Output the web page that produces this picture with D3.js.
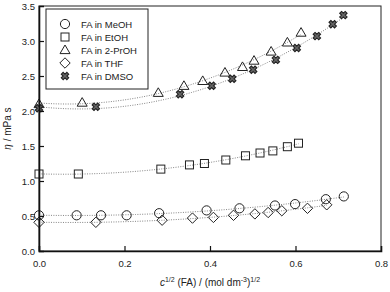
<!DOCTYPE html>
<html>
<head>
<meta charset="utf-8">
<script src="https://cdn.jsdelivr.net/npm/d3@7"></script>
<style>
  body { margin: 0; background: #fff; }
  text { font-family: "Liberation Sans", Arial, sans-serif; fill: #222; }
</style>
</head>
<body>
<div id="chart"></div>
<script>
// data: x = c^1/2, y = viscosity
const seriesNames = ['FA in MeOH', 'FA in EtOH', 'FA in 2-PrOH', 'FA in THF', 'FA in DMSO']

const xMeOH = [0, 0.088, 0.145, 0.205, 0.281, 0.392, 0.469, 0.552, 0.599, 0.671, 0.713]
const yMeOH = [0.51, 0.51, 0.51, 0.51, 0.54, 0.58, 0.61, 0.65, 0.67, 0.74, 0.78]

const xEtOH = [0, 0.092, 0.285, 0.352, 0.387, 0.437, 0.483, 0.517, 0.547, 0.581, 0.607]
const yEtOH = [1.10, 1.10, 1.17, 1.23, 1.25, 1.30, 1.36, 1.40, 1.43, 1.49, 1.54]

const xPrOH = [0, 0.101, 0.279, 0.339, 0.383, 0.435, 0.476, 0.503, 0.543, 0.581, 0.613]
const yPrOH = [2.10, 2.12, 2.26, 2.36, 2.43, 2.55, 2.63, 2.72, 2.85, 2.98, 3.12]

const xTHF = [0, 0.133, 0.288, 0.359, 0.408, 0.455, 0.505, 0.536, 0.568, 0.628, 0.673]
const yTHF = [0.41, 0.41, 0.44, 0.47, 0.48, 0.51, 0.53, 0.55, 0.575, 0.61, 0.66]

const xDMSO = [0, 0.133, 0.33, 0.404, 0.452, 0.501, 0.554, 0.603, 0.650, 0.687, 0.712]
const yDMSO = [2.04, 2.06, 2.24, 2.36, 2.46, 2.59, 2.73, 2.90, 3.07, 3.24, 3.37]

const xTicks = [0, 0.2, 0.4, 0.6, 0.8]
const yTicks = [0, 0.5, 1.0, 1.5, 2.0, 2.5, 3.0, 3.5]

const series = [
  { name: seriesNames[0], xs: xMeOH, ys: yMeOH, sym: 'circle' },
  { name: seriesNames[1], xs: xEtOH, ys: yEtOH, sym: 'square' },
  { name: seriesNames[2], xs: xPrOH, ys: yPrOH, sym: 'triangle' },
  { name: seriesNames[3], xs: xTHF, ys: yTHF, sym: 'diamond' },
  { name: seriesNames[4], xs: xDMSO, ys: yDMSO, sym: 'cross' }
]

const dimensions = {
  width: 390,
  height: 292,
  left: 39,
  right: 9,
  top: 6,
  bottom: 41
}
dimensions.ctrWidth = dimensions.width - dimensions.left - dimensions.right
dimensions.ctrHeight = dimensions.height - dimensions.top - dimensions.bottom

const svg = d3.select('#chart')
  .append('svg')
  .attr('width', dimensions.width)
  .attr('height', dimensions.height)

const ctr = svg.append('g')
  .attr('transform', `translate(${dimensions.left}, ${dimensions.top})`)

const xScale = d3.scaleLinear()
  .domain([0, 0.8])
  .range([0, dimensions.ctrWidth])

const yScale = d3.scaleLinear()
  .domain([0, 3.5])
  .range([dimensions.ctrHeight, 0])

// frame (top/right thin)
ctr.append('rect')
  .attr('width', dimensions.ctrWidth)
  .attr('height', dimensions.ctrHeight)
  .attr('fill', 'none')
  .attr('stroke', '#222')
  .attr('stroke-width', 1)

// quadratic least squares fit  y = a + b x + c x^2
function fit2(xs, ys) {
  let s = [0, 0, 0, 0, 0], t = [0, 0, 0]
  xs.forEach((x, i) => {
    for (let k = 0; k < 5; k++) s[k] += Math.pow(x, k)
    for (let k = 0; k < 3; k++) t[k] += ys[i] * Math.pow(x, k)
  })
  const m = [[s[0], s[1], s[2], t[0]], [s[1], s[2], s[3], t[1]], [s[2], s[3], s[4], t[2]]]
  for (let i = 0; i < 3; i++) {
    for (let j = i + 1; j < 3; j++) {
      const f = m[j][i] / m[i][i]
      for (let k = i; k < 4; k++) m[j][k] -= f * m[i][k]
    }
  }
  const c = [0, 0, 0]
  for (let i = 2; i >= 0; i--) {
    let v = m[i][3]
    for (let k = i + 1; k < 3; k++) v -= m[i][k] * c[k]
    c[i] = v / m[i][i]
  }
  return x => c[0] + c[1] * x + c[2] * x * x
}

const line = d3.line()
  .x(d => xScale(d[0]))
  .y(d => yScale(d[1]))

const fitGroup = ctr.append('g')
series.forEach(s => {
  const f = fit2(s.xs, s.ys)
  const xMax = d3.max(s.xs)
  const pts = d3.range(0, 61).map(i => {
    const x = xMax * i / 60
    return [x, f(x)]
  })
  fitGroup.append('path')
    .attr('d', line(pts))
    .attr('fill', 'none')
    .attr('stroke', '#777')
    .attr('stroke-width', 0.9)
    .attr('stroke-dasharray', '1,1.4')
})

// markers
function drawSymbol(g, sym) {
  if (sym === 'circle') {
    g.append('circle').attr('r', 4.6)
  } else if (sym === 'square') {
    g.append('rect').attr('x', -4).attr('y', -4).attr('width', 8).attr('height', 8)
  } else if (sym === 'triangle') {
    g.append('path').attr('d', 'M0,-5L5,3.6L-5,3.6Z')
  } else if (sym === 'diamond') {
    g.append('path').attr('d', 'M0,-5.2L5.2,0L0,5.2L-5.2,0Z')
  } else {
    g.append('path')
      .attr('d', d3.symbol(d3.symbolCross, 34)())
      .attr('transform', 'rotate(45)')
      .attr('fill', '#666')
      .attr('stroke', '#222')
      .attr('stroke-width', 1.1)
  }
}

const markGroup = ctr.append('g')
series.forEach(s => {
  s.xs.forEach((x, i) => {
    const g = markGroup.append('g')
      .attr('transform', `translate(${xScale(x)}, ${yScale(s.ys[i])})`)
      .attr('fill', 'none')
      .attr('stroke', '#222')
      .attr('stroke-width', 1)
    drawSymbol(g, s.sym)
  })
})

// axes with inward ticks
const xAxis = d3.axisBottom(xScale)
  .tickValues(xTicks)
  .tickSize(-5)
  .tickPadding(9)
  .tickFormat(d3.format('.1f'))

const xAxisGroup = ctr.append('g')
  .attr('transform', `translate(0, ${dimensions.ctrHeight})`)
  .call(xAxis)

const yAxis = d3.axisLeft(yScale)
  .tickValues(yTicks)
  .tickSize(-5)
  .tickPadding(4)
  .tickFormat(d3.format('.1f'))

const yAxisGroup = ctr.append('g')
  .call(yAxis)

;[xAxisGroup, yAxisGroup].forEach(g => {
  g.select('.domain').attr('stroke', '#111').attr('stroke-width', 1.6)
  g.selectAll('.tick line').attr('stroke', '#111').attr('stroke-width', 1.2)
  g.selectAll('.tick text')
    .style('font-family', '"Liberation Sans", Arial, sans-serif')
    .style('font-size', '9.5px')
    .attr('fill', '#222')
})
xAxisGroup.selectAll('.tick').filter(d => d === 0 || d === 0.8).select('line').remove()
yAxisGroup.selectAll('.tick').filter(d => d === 0 || d === 3.5).select('line').remove()

// legend
const legend = ctr.append('g')
  .attr('transform', 'translate(7, 3)')

legend.append('rect')
  .attr('width', 102)
  .attr('height', 80)
  .attr('fill', '#fff')
  .attr('stroke', '#222')
  .attr('stroke-width', 1)

series.forEach((s, i) => {
  const row = legend.append('g')
    .attr('transform', `translate(0, ${15 + i * 13})`)
  const g = row.append('g')
    .attr('transform', 'translate(19, 0)')
    .attr('fill', 'none')
    .attr('stroke', '#222')
    .attr('stroke-width', 1)
  drawSymbol(g, s.sym)
  row.append('text')
    .attr('x', 35)
    .attr('y', 3.5)
    .style('font-size', '9.5px')
    .text(s.name)
})

// axis titles
svg.append('text')
  .attr('x', dimensions.left + dimensions.ctrWidth / 2)
  .attr('y', 286)
  .attr('text-anchor', 'middle')
  .style('font-size', '10px')
  .call(t => {
    t.append('tspan').style('font-style', 'italic').text('c')
    t.append('tspan').attr('dy', -4).style('font-size', '7px').text('1/2')
    t.append('tspan').attr('dy', 4).text(' (FA) / (mol dm')
    t.append('tspan').attr('dy', -4).style('font-size', '7px').text('-3')
    t.append('tspan').attr('dy', 4).text(')')
    t.append('tspan').attr('dy', -4).style('font-size', '7px').text('1/2')
  })

svg.append('text')
  .attr('transform', `translate(11, ${dimensions.top + dimensions.ctrHeight / 2}) rotate(-90)`)
  .attr('text-anchor', 'middle')
  .style('font-size', '10px')
  .call(t => {
    t.append('tspan').style('font-style', 'italic').text('η')
    t.append('tspan').text(' / mPa s')
  })
</script>
</body>
</html>
